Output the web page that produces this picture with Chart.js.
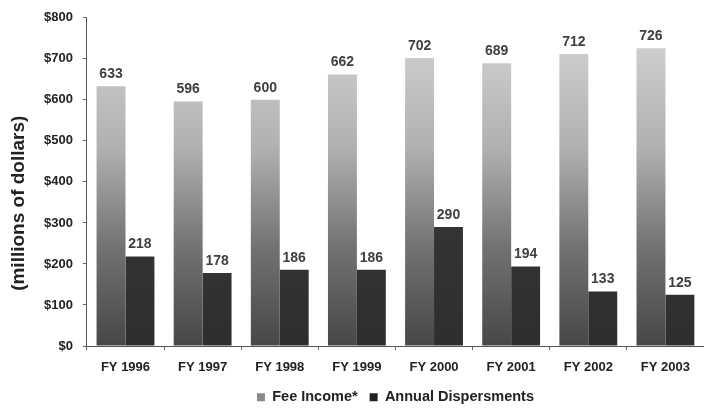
<!DOCTYPE html>
<html>
<head>
<meta charset="utf-8">
<script src="https://cdn.jsdelivr.net/npm/chart.js@4/dist/chart.umd.min.js"></script>
<style>
html,body{margin:0;padding:0;background:#fff;}
#wrap{width:704px;height:409px;position:relative;}
</style>
</head>
<body>
<div id="wrap"><canvas id="c" width="704" height="409"></canvas></div>
<script>
const categories = ["FY 1996","FY 1997","FY 1998","FY 1999","FY 2000","FY 2001","FY 2002","FY 2003"];
const feeIncome = [633, 596, 600, 662, 702, 689, 712, 726];
const annualDispersments = [218, 178, 186, 186, 290, 194, 133, 125];
const seriesNames = ["Fee Income*", "Annual Dispersments"];
const yTicks = [0, 100, 200, 300, 400, 500, 600, 700, 800];
const yTitle = "(millions of dollars)";

const FONT = '"Liberation Sans", Arial, sans-serif';

function feeGradient(ctx){
  const chart = ctx.chart;
  const area = chart.chartArea;
  if(!area) return '#999';
  const g = chart.ctx.createLinearGradient(0, area.top, 0, area.bottom);
  g.addColorStop(0, '#d6d6d6');
  g.addColorStop(0.4, '#b0b0b0');
  g.addColorStop(0.7, '#727272');
  g.addColorStop(1, '#474747');
  return g;
}
function annGradient(ctx){
  const chart = ctx.chart;
  const area = chart.chartArea;
  if(!area) return '#333';
  const g = chart.ctx.createLinearGradient(0, area.top, 0, area.bottom);
  g.addColorStop(0, '#3e3e3e');
  g.addColorStop(1, '#2e2e2e');
  return g;
}

const valueLabels = {
  id: 'valueLabels',
  afterDatasetsDraw(chart){
    const ctx = chart.ctx;
    ctx.save();
    ctx.font = 'bold 14px ' + FONT;
    ctx.fillStyle = '#404040';
    ctx.textAlign = 'center';
    ctx.textBaseline = 'bottom';
    chart.data.datasets.forEach((ds, i) => {
      const meta = chart.getDatasetMeta(i);
      meta.data.forEach((el, j) => {
        ctx.fillText(String(ds.data[j]), el.x, el.y - 5);
      });
    });
    ctx.restore();
  }
};

const yTitlePlugin = {
  id: 'yTitlePlugin',
  afterDraw(chart){
    const ctx = chart.ctx;
    const a = chart.chartArea;
    ctx.save();
    ctx.font = 'bold 19px ' + FONT;
    ctx.fillStyle = '#222';
    ctx.textAlign = 'center';
    ctx.textBaseline = 'middle';
    ctx.translate(19, a.top + a.height * 0.565);
    ctx.rotate(-Math.PI / 2);
    ctx.fillText(yTitle, 0, 0);
    ctx.restore();
  }
};

new Chart(document.getElementById('c'), {
  type: 'bar',
  data: {
    labels: categories,
    datasets: [
      { label: seriesNames[0], data: feeIncome, backgroundColor: feeGradient, borderWidth: 0 },
      { label: seriesNames[1], data: annualDispersments, backgroundColor: annGradient, borderWidth: 0 }
    ]
  },
  options: {
    responsive: false,
    animation: false,
    devicePixelRatio: 1,
    layout: { padding: { left: 34, right: 0, top: 14, bottom: 0 } },
    datasets: { bar: { categoryPercentage: 0.75, barPercentage: 1.0 } },
    plugins: {
      tooltip: { enabled: false },
      legend: {
        position: 'bottom',
        fullSize: false,
        maxHeight: 31,
        labels: {
          font: { family: FONT, size: 14.5, weight: 'bold' },
          color: '#222',
          boxWidth: 8,
          boxHeight: 8,
          padding: 12,
          generateLabels(chart){
            return [
              { text: seriesNames[0], fillStyle: '#8a8a8a', strokeStyle: '#8a8a8a', lineWidth: 0, datasetIndex: 0, fontColor: '#222' },
              { text: seriesNames[1], fillStyle: '#222', strokeStyle: '#222', lineWidth: 0, datasetIndex: 1, fontColor: '#222' }
            ];
          }
        }
      }
    },
    scales: {
      x: {
        afterFit(scale){ scale.height = 32; },
        grid: { display: true, drawOnChartArea: false, offset: true, tickLength: 4, color: '#666' },
        border: { display: true, color: '#555', width: 1 },
        ticks: {
          font: { family: FONT, size: 13, weight: 'bold' },
          color: '#222',
          padding: 10,
          maxRotation: 0
        }
      },
      y: {
        min: 0, max: 800,
        afterBuildTicks(axis){ axis.ticks = yTicks.map(v => ({ value: v })); },
        grid: { display: true, drawOnChartArea: false, tickLength: 4, color: '#666' },
        border: { display: true, color: '#555', width: 1 },
        ticks: {
          font: { family: FONT, size: 13, weight: 'bold' },
          color: '#222',
          padding: 10,
          callback: v => '$' + v
        }
      }
    }
  },
  plugins: [valueLabels, yTitlePlugin]
});
</script>
</body>
</html>
